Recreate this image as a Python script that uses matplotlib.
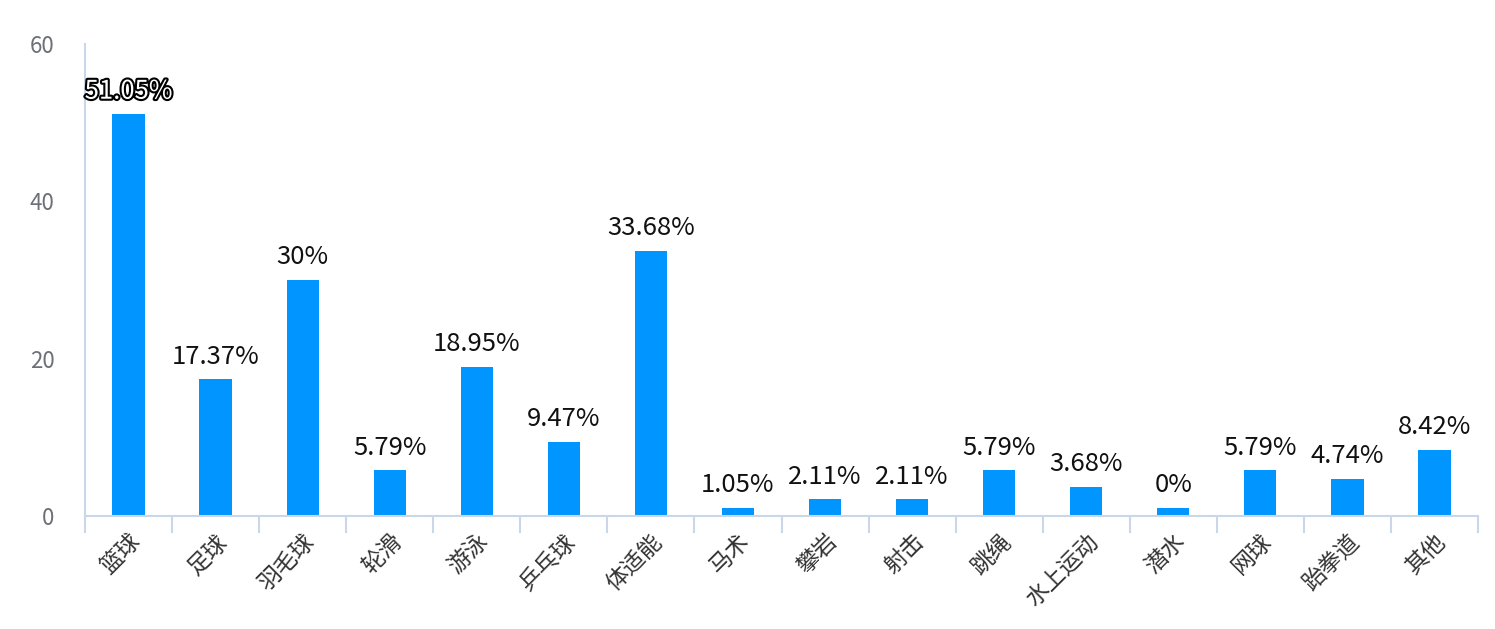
import matplotlib
matplotlib.use("Agg")
import matplotlib.pyplot as plt
import matplotlib.patheffects as pe
import numpy as np

plt.rcParams['font.family'] = ['Noto Sans CJK SC', 'DejaVu Sans']

# data
categories = ['篮球', '足球', '羽毛球', '轮滑', '游泳', '乒乓球', '体适能', '马术',
              '攀岩', '射击', '跳绳', '水上运动', '潜水', '网球', '跆拳道', '其他']
values = [51.05, 17.37, 30, 5.79, 18.95, 9.47, 33.68, 1.05,
          2.11, 2.11, 5.79, 3.68, 1.05, 5.79, 4.74, 8.42]
labels = ['51.05%', '17.37%', '30%', '5.79%', '18.95%', '9.47%', '33.68%', '1.05%',
          '2.11%', '2.11%', '5.79%', '3.68%', '0%', '5.79%', '4.74%', '8.42%']

fig = plt.figure(figsize=(14.95, 6.29), dpi=100)
ax = fig.add_axes([85 / 1495, 1 - 516 / 629, (1478 - 85) / 1495, (516 - 44) / 629])

x = np.arange(len(categories))
ax.bar(x, values, width=0.37, color='#0095FF', zorder=2)

for i, (v, s) in enumerate(zip(values, labels)):
    t = ax.annotate(s, (i, v), xytext=(0, 7), textcoords='offset points',
                    ha='center', va='bottom', fontsize=18.5, color='#111111')
    if i == 0:
        t.set_color('white')
        t.set_path_effects([pe.withStroke(linewidth=3, foreground='black')])

ax.set_xlim(-0.5, len(categories) - 0.5)
ax.set_ylim(0, 60)
ax.set_yticks([0, 20, 40, 60])
ax.tick_params(axis='y', length=0, labelsize=16, labelcolor='#6E7079', pad=22)

ax.set_xticks(x)
ax.set_xticklabels(categories, rotation=45, ha='right', rotation_mode='anchor',
                   fontsize=16.5, color='#333333')
ax.tick_params(axis='x', length=0, pad=10)
ax.set_xticks(np.arange(len(categories) + 1) - 0.5, minor=True)
ax.tick_params(axis='x', which='minor', length=12, color='#CCD6EB', width=1.5)

for side in ['top', 'right']:
    ax.spines[side].set_visible(False)
ax.spines['left'].set_color('#CCD6EB')
ax.spines['bottom'].set_color('#CCD6EB')
ax.spines['left'].set_linewidth(1.5)
ax.spines['bottom'].set_linewidth(1.5)

fig.savefig('out.png', dpi=100)
